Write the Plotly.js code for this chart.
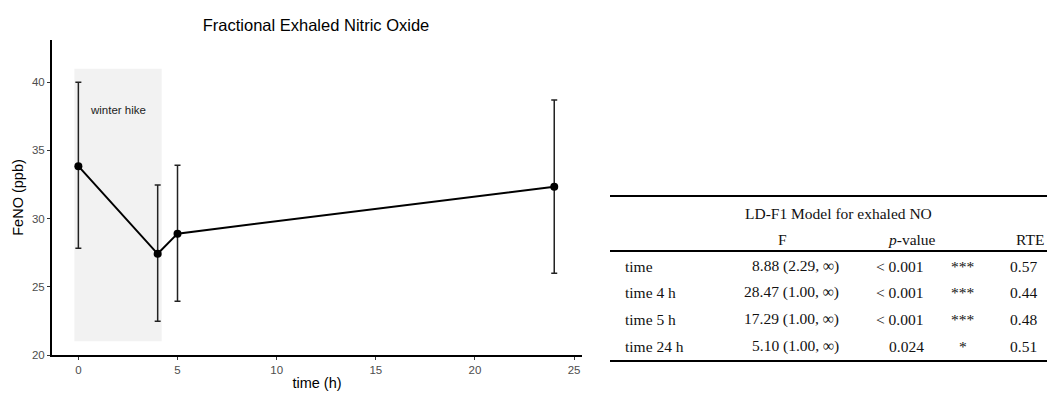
<!DOCTYPE html>
<html><head><meta charset="utf-8">
<script src="https://cdn.plot.ly/plotly-3.0.1.min.js"></script>
<style>body{margin:0;background:#fff}#chart{width:1049px;height:394px}</style>
</head><body><div id="chart"></div>
<script>
// ---- chart data ----
const timeH = [0, 4, 5, 24];
const fenoMean = [33.85, 27.42, 28.9, 32.34];
const fenoUpper = [40.0, 32.46, 33.92, 38.7];
const fenoLower = [27.83, 22.48, 23.94, 26.0];
const hikeLabel = "winter hike";
const hikeStart = -0.2, hikeEnd = 4.2, hikeLow = 21, hikeHigh = 41;

// ---- table data ----
const tableTitle = "LD-F1 Model for exhaled NO";
const tableHeaders = ["F", "<i>p</i>-value", "RTE"];
const rowLabels = ["time", "time 4 h", "time 5 h", "time 24 h"];
const fValues = ["8.88 (2.29, ∞)", "28.47 (1.00, ∞)", "17.29 (1.00, ∞)", "5.10 (1.00, ∞)"];
const pValues = ["< 0.001", "< 0.001", "< 0.001", "0.024"];
const stars = ["***", "***", "***", "*"];
const rteValues = ["0.57", "0.44", "0.48", "0.51"];

// plot area in pixels
const L = 52, R = 582, T = 40, B = 355, W = 1049, H = 394;
const px = x => (x - L) / (R - L);
const py = y => (B - y) / (B - T);

const trace = {
  x: timeH, y: fenoMean, type: 'scatter', mode: 'lines+markers',
  line: {color: '#000', width: 2},
  marker: {color: '#000', size: 8},
  error_y: {
    type: 'data', symmetric: false,
    array: fenoUpper.map((u, i) => u - fenoMean[i]),
    arrayminus: fenoMean.map((m, i) => m - fenoLower[i]),
    color: '#222', thickness: 1.5, width: 3
  },
  hoverinfo: 'skip', showlegend: false
};

const sans = 'Liberation Sans, Arial, sans-serif';
const serif = {family: 'Liberation Serif, Times New Roman, serif', size: 15.5, color: '#111'};
const ann = [];
ann.push({xref: 'x', yref: 'y', x: (hikeStart + hikeEnd) / 2, y: 38, text: hikeLabel,
  showarrow: false, font: {family: sans, size: 11.5, color: '#222'}});

function t(xpix, ypix, text, anchor) {
  ann.push({xref: 'paper', yref: 'paper', x: px(xpix), y: py(ypix), text: text,
    showarrow: false, xanchor: anchor, yanchor: 'middle', font: serif});
}
t(838, 213, tableTitle, 'center');
t(782, 239, tableHeaders[0], 'center');
t(912, 239, tableHeaders[1], 'center');
t(1046, 239, tableHeaders[2], 'right');
const rowY = [266, 292, 319, 346];
rowLabels.forEach((r, i) => {
  t(623, rowY[i], r, 'left');
  t(841, rowY[i], fValues[i], 'right');
  t(926, rowY[i], pValues[i], 'right');
  t(963, rowY[i], stars[i], 'center');
  t(1039, rowY[i], rteValues[i], 'right');
});

const hline = (ypix, w) => ({type: 'line', xref: 'paper', yref: 'paper',
  x0: px(610), x1: px(1047), y0: py(ypix), y1: py(ypix), line: {color: '#000', width: w}});

const layout = {
  width: W, height: H,
  margin: {l: L, r: W - R, t: T, b: H - B},
  paper_bgcolor: '#fff', plot_bgcolor: '#fff',
  title: {text: 'Fractional Exhaled Nitric Oxide', x: px(316), xref: 'paper', xanchor: 'center',
    y: 1 - 25 / H, yref: 'container', yanchor: 'middle',
    font: {family: sans, size: 16.5, color: '#000'}},
  xaxis: {range: [-1.33, 25.4], tickvals: [0, 5, 10, 15, 20, 25], showgrid: false, zeroline: false,
    showline: true, linecolor: '#000', linewidth: 2, ticks: 'outside', ticklen: 3, tickcolor: '#333',
    tickfont: {family: sans, size: 11.5, color: '#4d4d4d'},
    title: {text: 'time (h)', font: {family: sans, size: 14.5, color: '#000'}, standoff: 3}},
  yaxis: {range: [20, 43.1], tickvals: [20, 25, 30, 35, 40], showgrid: false, zeroline: false,
    showline: true, linecolor: '#000', linewidth: 2, ticks: 'outside', ticklen: 3, tickcolor: '#333',
    tickfont: {family: sans, size: 11.5, color: '#4d4d4d'},
    title: {text: 'FeNO (ppb)', font: {family: sans, size: 14.5, color: '#000'}, standoff: 5}},
  shapes: [
    {type: 'rect', xref: 'x', yref: 'y', x0: hikeStart, x1: hikeEnd, y0: hikeLow, y1: hikeHigh,
     fillcolor: '#f2f2f2', line: {width: 0}, layer: 'below'},
    hline(196, 2), hline(251, 2), hline(361, 2)
  ],
  annotations: ann
};
Plotly.newPlot('chart', [trace], layout, {staticPlot: true, displayModeBar: false});
</script></body></html>
